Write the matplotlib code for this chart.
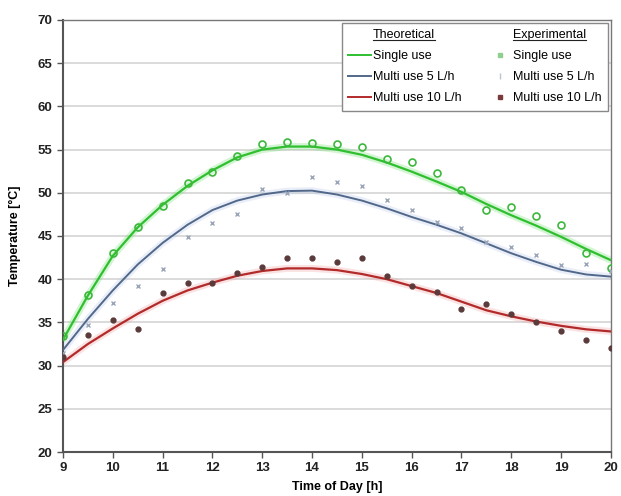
import numpy as np
import matplotlib
matplotlib.use("Agg")
import matplotlib.pyplot as plt
from matplotlib.lines import Line2D

plt.rcParams['font.family'] = ['Liberation Sans Narrow', 'Liberation Sans', 'DejaVu Sans']

# time axis for theory curves and measurements (half-hourly)
hours = [9, 9.5, 10, 10.5, 11, 11.5, 12, 12.5, 13, 13.5, 14, 14.5, 15,
         15.5, 16, 16.5, 17, 17.5, 18, 18.5, 19, 19.5, 20]

# theoretical curves
theo_single = [33.0, 38.1, 42.7, 46.0, 48.6, 50.8, 52.6, 54.1, 55.0, 55.35, 55.35, 55.0,
               54.4, 53.5, 52.45, 51.3, 50.1, 48.7, 47.4, 46.2, 44.9, 43.5, 42.2]
theo_multi5 = [31.8, 35.4, 38.7, 41.7, 44.2, 46.3, 48.0, 49.1, 49.8, 50.2, 50.25, 49.8,
               49.1, 48.2, 47.2, 46.3, 45.3, 44.15, 43.0, 42.0, 41.1, 40.55, 40.3]
theo_multi10 = [30.4, 32.5, 34.3, 36.0, 37.5, 38.7, 39.6, 40.4, 40.95, 41.25, 41.25, 41.05,
                40.6, 40.0, 39.2, 38.4, 37.4, 36.4, 35.7, 35.1, 34.6, 34.2, 33.95]

# experimental measurements
exp_single = [33.4, 38.2, 43.0, 46.0, 48.5, 51.1, 52.4, 54.3, 55.7, 55.9, 55.8, 55.7,
              55.3, 53.9, 53.6, 52.3, 50.3, 48.0, 48.3, 47.3, 46.3, 43.0, 41.3]
exp_multi5 = [31.5, 34.7, 37.3, 39.25, 41.2, 44.85, 46.5, 47.5, 50.4, 50.0, 51.8, 51.3,
              50.8, 49.2, 48.0, 46.6, 45.9, 44.3, 43.7, 42.8, 41.65, 41.8, 41.0]
exp_multi10 = [31.0, 33.5, 35.3, 34.2, 38.4, 39.6, 39.6, 40.75, 41.45, 42.4, 42.4, 42.0,
               42.4, 40.4, 39.25, 38.55, 36.5, 37.1, 36.0, 35.0, 33.95, 33.0, 32.0]

labels = ['Single use', 'Multi use 5 L/h', 'Multi use 10 L/h']
line_colors = ['#2fbf2f', '#52688a', '#b22a2a']

fig = plt.figure(figsize=(6.21, 4.96), dpi=100)
ax = fig.add_axes([0.1014, 0.0887, 0.8824, 0.871])

# soft glow under the theory lines like the original
for y, c in zip([theo_single, theo_multi5, theo_multi10], ['#6fe06f', '#b8c8e8', '#f0a0a0']):
    ax.plot(hours, y, color=c, lw=5, alpha=0.3, zorder=2, solid_capstyle='round')

ax.plot(hours, theo_single, color=line_colors[0], lw=1.6, zorder=3)
ax.plot(hours, theo_multi5, color=line_colors[1], lw=1.4, zorder=3)
ax.plot(hours, theo_multi10, color=line_colors[2], lw=1.6, zorder=3)

ax.plot(hours, exp_single, ls='none', marker='o', ms=5, mfc='none', mec='#3cb83c', mew=1.2, zorder=4)
ax.plot(hours, exp_multi5, ls='none', marker='x', ms=3.5, mec='#9aa6b8', mew=1.0, zorder=4)
ax.plot(hours, exp_multi10, ls='none', marker='o', ms=3.5, mfc='#5a3a3a', mec='#5a3a3a', zorder=4)

ax.set_xlim(9, 20)
ax.set_ylim(20, 70)
ax.set_xticks(range(9, 21))
ax.set_yticks(range(20, 71, 5))
ax.yaxis.grid(True, color='#d4d4d4', lw=1.2)
ax.set_axisbelow(True)

for s in ['left', 'bottom']:
    ax.spines[s].set_color('#555555')
    ax.spines[s].set_linewidth(1.5)
for s in ['top', 'right']:
    ax.spines[s].set_color('#777777')
    ax.spines[s].set_linewidth(1.0)
ax.tick_params(direction='out', length=4, width=1, color='#555555', labelsize=9.5, colors='#222222')
for t in ax.get_xticklabels() + ax.get_yticklabels():
    t.set_fontweight('bold')

ax.set_xlabel('Time of Day [h]', fontsize=9, fontweight='bold', labelpad=5)
ax.set_ylabel('Temperature [°C]', fontsize=9, fontweight='bold', labelpad=12)

# two-column legend: theory lines left, measurements right
blank = Line2D([], [], color='none')
handles = [blank,
           Line2D([], [], color=line_colors[0], lw=1.4),
           Line2D([], [], color=line_colors[1], lw=1.4),
           Line2D([], [], color=line_colors[2], lw=1.4),
           blank,
           Line2D([], [], ls='none', marker='s', ms=2.5, mfc='#8fd08f', mec='#8fd08f'),
           Line2D([], [], ls='none', marker='|', ms=4, mec='#b8c4d0'),
           Line2D([], [], ls='none', marker='s', ms=2.5, mfc='#7a3a3a', mec='#7a3a3a')]
leg_labels = ['Theoretical'] + labels + ['Experimental'] + labels
leg = ax.legend(handles, leg_labels, ncol=2, loc='upper right', bbox_to_anchor=(0.9945, 0.993),
                borderaxespad=0, fontsize=9, handlelength=1.8, handletextpad=0.15,
                columnspacing=2.2, labelspacing=0.72, fancybox=False, framealpha=1,
                edgecolor='#888888', borderpad=0.5)
leg.get_frame().set_linewidth(1.0)

# underline the column headers
fig.canvas.draw()
renderer = fig.canvas.get_renderer()
inv = fig.transFigure.inverted()
for txt in leg.get_texts():
    if txt.get_text() in ('Theoretical', 'Experimental'):
        bb = txt.get_window_extent(renderer)
        (x0, y0), (x1, y1) = inv.transform([(bb.x0, bb.y0 + 1.5), (bb.x1, bb.y0 + 1.5)])
        fig.add_artist(Line2D([x0, x1], [y0, y1], color='#222222', lw=0.8, zorder=10))

fig.savefig('out.png', dpi=100)
